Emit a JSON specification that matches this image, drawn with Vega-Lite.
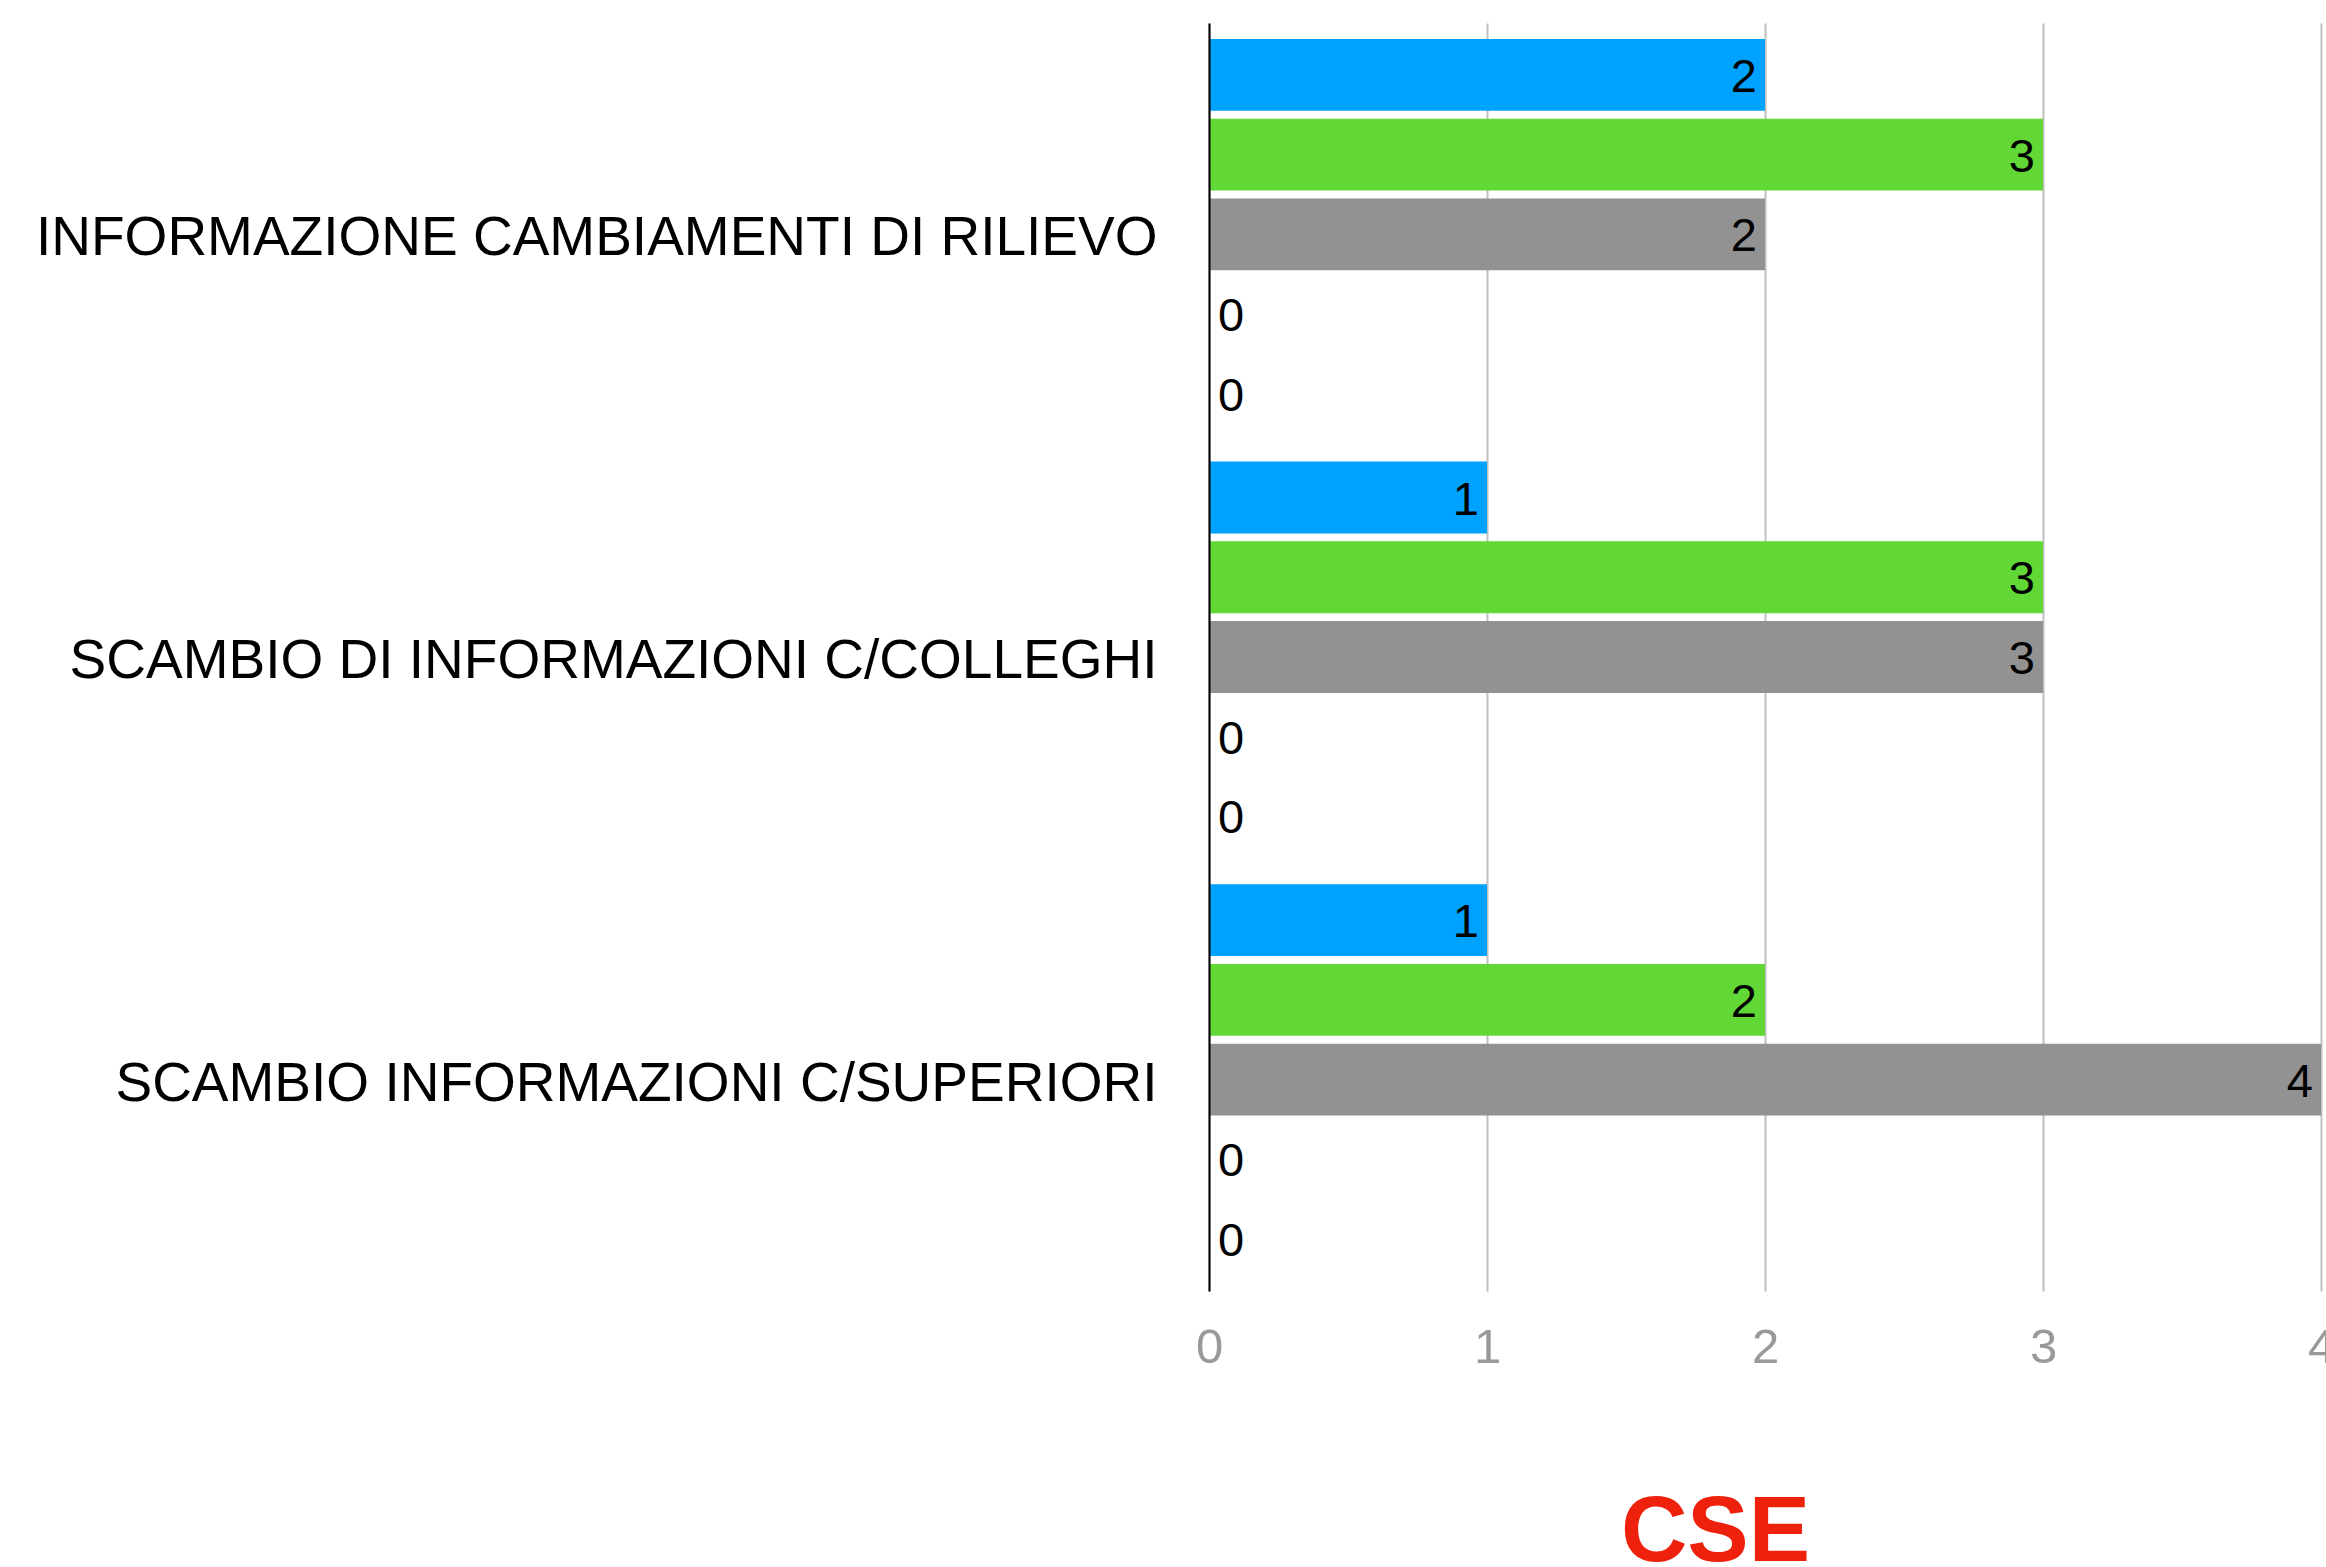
{
  "$schema": "https://vega.github.io/schema/vega-lite/v6.json",
  "width": 1112,
  "height": 1268,
  "autosize": {"type": "none"},
  "padding": {"left": 1209, "top": 23, "right": 5, "bottom": 276},
  "background": "white",
  "config": {"view": {"stroke": null}, "font": "Liberation Sans"},
  "data": {
    "values": [
      {"cat": "INFORMAZIONE CAMBIAMENTI DI RILIEVO", "serie": "Serie 1", "value": 2},
      {"cat": "INFORMAZIONE CAMBIAMENTI DI RILIEVO", "serie": "Serie 2", "value": 3},
      {"cat": "INFORMAZIONE CAMBIAMENTI DI RILIEVO", "serie": "Serie 3", "value": 2},
      {"cat": "INFORMAZIONE CAMBIAMENTI DI RILIEVO", "serie": "Serie 4", "value": 0},
      {"cat": "INFORMAZIONE CAMBIAMENTI DI RILIEVO", "serie": "Serie 5", "value": 0},
      {"cat": "SCAMBIO DI INFORMAZIONI C/COLLEGHI", "serie": "Serie 1", "value": 1},
      {"cat": "SCAMBIO DI INFORMAZIONI C/COLLEGHI", "serie": "Serie 2", "value": 3},
      {"cat": "SCAMBIO DI INFORMAZIONI C/COLLEGHI", "serie": "Serie 3", "value": 3},
      {"cat": "SCAMBIO DI INFORMAZIONI C/COLLEGHI", "serie": "Serie 4", "value": 0},
      {"cat": "SCAMBIO DI INFORMAZIONI C/COLLEGHI", "serie": "Serie 5", "value": 0},
      {"cat": "SCAMBIO INFORMAZIONI C/SUPERIORI", "serie": "Serie 1", "value": 1},
      {"cat": "SCAMBIO INFORMAZIONI C/SUPERIORI", "serie": "Serie 2", "value": 2},
      {"cat": "SCAMBIO INFORMAZIONI C/SUPERIORI", "serie": "Serie 3", "value": 4},
      {"cat": "SCAMBIO INFORMAZIONI C/SUPERIORI", "serie": "Serie 4", "value": 0},
      {"cat": "SCAMBIO INFORMAZIONI C/SUPERIORI", "serie": "Serie 5", "value": 0}
    ]
  },
  "encoding": {
    "y": {
      "field": "cat",
      "type": "nominal",
      "sort": null,
      "scale": {"paddingInner": 0, "paddingOuter": 0},
      "axis": {
        "title": null,
        "labelFontSize": 55,
        "labelColor": "black",
        "labelFont": "Liberation Sans",
        "labelPadding": 52,
        "labelOffset": 4,
        "labelLimit": 0,
        "ticks": false,
        "domain": true,
        "domainColor": "black",
        "domainWidth": 2,
        "grid": false,
        "zindex": 1
      }
    },
    "yOffset": {
      "field": "serie",
      "type": "nominal",
      "sort": null,
      "scale": {"paddingInner": 0.1, "paddingOuter": 0.2}
    },
    "x": {
      "field": "value",
      "type": "quantitative",
      "scale": {"domain": [0, 4], "nice": false},
      "axis": {
        "values": [0, 1, 2, 3, 4],
        "format": "d",
        "grid": true,
        "gridColor": "#c0c0c0",
        "gridWidth": 2,
        "domain": false,
        "ticks": false,
        "labelColor": "#999999",
        "labelFontSize": 49,
        "labelFont": "Liberation Sans",
        "labelBaseline": "middle",
        "labelPadding": 56,
        "labelFlush": false,
        "labelOverlap": false,
        "title": "CSE",
        "titleFont": "Liberation Sans",
        "titleFontSize": 92,
        "titleFontWeight": "bold",
        "titleColor": "#EE220C",
        "titleX": 506,
        "titleY": 269,
        "titleAlign": "center",
        "titleBaseline": "alphabetic"
      }
    }
  },
  "layer": [
    {
      "mark": {"type": "bar"},
      "encoding": {
        "color": {
          "field": "serie",
          "type": "nominal",
          "scale": {
            "domain": ["Serie 1", "Serie 2", "Serie 3", "Serie 4", "Serie 5"],
            "range": ["#00A2FF", "#61D836", "#929292", "#FAE232", "#FF644E"]
          },
          "legend": null
        }
      }
    },
    {
      "transform": [{"filter": "datum.value > 0"}],
      "mark": {"type": "text", "align": "right", "baseline": "middle", "dx": -8, "dy": 3, "fontSize": 47, "color": "black", "font": "Liberation Sans"},
      "encoding": {"text": {"field": "value", "type": "quantitative"}}
    },
    {
      "transform": [{"filter": "datum.value == 0"}],
      "mark": {"type": "text", "align": "left", "baseline": "middle", "dx": 9, "dy": 3, "fontSize": 47, "color": "black", "font": "Liberation Sans"},
      "encoding": {"text": {"field": "value", "type": "quantitative"}}
    }
  ]
}
